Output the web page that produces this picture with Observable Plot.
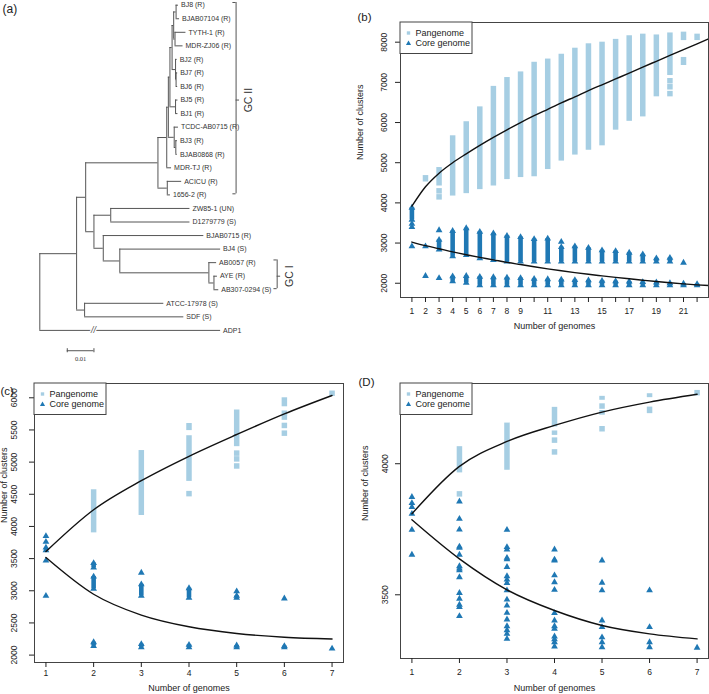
<!DOCTYPE html>
<html><head><meta charset="utf-8">
<script src="https://cdn.jsdelivr.net/npm/d3@7"></script>
<script src="https://cdn.jsdelivr.net/npm/@observablehq/plot@0.6"></script>
<style>
body{margin:0;background:#fff;}
#fig{position:relative;width:709px;height:694px;overflow:hidden;background:#fff;}
#fig svg{position:absolute;}
</style></head><body><div id="fig"></div>
<script>
// ---------- DATA ----------
const PAN = "#a6cee3", CORE = "#1f78b4";
const FONT = "Liberation Sans, Arial, Helvetica, sans-serif";

// Tree (a): [parent, child, branch length], children listed top to bottom
const treeEdges = [
 ["root","N1",0.0138],["N1","N2",0.0034],["N2","N8",0.0271],["N8","N9",0.0033],
 ["N9","N10",0.0006],["N10","N11",0.0006],["N11","A",0.0008],["A","B",0.0006],
 ["B","B1",0.0009],["B1","BJ8 (R)",0.0009],["B1","BJAB07104 (R)",0.0013],
 ["B","B2",0.0005],["B2","TYTH-1 (R)",0.0041],["B2","MDR-ZJ06 (R)",0.0030],
 ["A","C",0.0013],["C","BJ2 (R)",0.0006],["C","C1",0.0002],["C1","BJ7 (R)",0.0006],["C1","BJ6 (R)",0.0006],
 ["N11","D",0.0021],["D","BJ5 (R)",0.0009],["D","BJ1 (R)",0.0009],
 ["N10","N12",0.0022],["N12","TCDC-AB0715 (R)",0.0016],["N12","N12b",0.0006],
 ["N12b","BJ3 (R)",0.0006],["N12b","BJAB0868 (R)",0.0006],
 ["N9","MDR-TJ (R)",0.0018],
 ["N8","ACn",0.0035],["ACn","ACICU (R)",0.0054],["ACn","1656-2 (R)",0.0012],
 ["N2","N3",0.0031],["N3","N4",0.0063],["N4","ZW85-1 (UN)",0.0297],["N4","D1279779 (S)",0.0297],
 ["N3","N5",0.0035],["N5","BJAB0715 (R)",0.0377],["N5","N6",0.0062],["N6","BJ4 (S)",0.0378],
 ["N6","N7",0.0334],["N7","AB0057 (R)",0.0029],["N7","N7b",0.0019],["N7b","AYE (R)",0.0013],["N7b","AB307-0294 (S)",0.0018],
 ["N1","NA",0.0030],["NA","ATCC-17978 (S)",0.0297],["NA","SDF (S)",0.0372],
 ["root","ADP1",0.0678]
];
const clades = [
 {name:"GC II", from:"BJ8 (R)", to:"1656-2 (R)", x:0.0736, labelX:0.0784},
 {name:"GC I", from:"AB0057 (R)", to:"AB307-0294 (S)", x:0.0890, labelX:0.0937}
];
const brokenBranch = {leaf:"ADP1", at:0.0201};
const scaleBar = {start:0.0103, length:0.01, label:"0.01"};

// Panel (b)
const bPanBands = [[2,4520,4680],[3,4420,4880],[4,4170,5670],[5,4230,6020],[6,4330,6390],[7,4420,6900],
 [8,4580,7120],[9,4630,7260],[10,4650,7500],[11,4830,7580],[12,5040,7700],[13,5190,7850],[14,5310,7960],
 [15,5420,8000],[16,5810,8070],[17,6030,8160],[18,6140,8200],[19,6640,8180],[20,7170,8230],[21,8040,8250],
 [21,7420,7620],[22,8040,8200]];
const bPanPts = [[3,4300],[3,4150],[20,7040],[20,6890],[20,6720]];
const bCoreBands = [[1,3580,3880],[3,2840,3080],[4,2670,3300],[4,2050,2170],[5,2700,3370],[5,2010,2180],
 [6,2620,3280],[6,1950,2160],[7,2580,3240],[7,1950,2150],[8,2540,3180],[8,1950,2140],[9,2540,3150],[9,1950,2130],
 [10,2540,3100],[10,1950,2110],[11,2540,3110],[11,1950,2100],[12,2540,2900],[12,1950,2090],[13,2540,2920],[13,1950,2080],
 [14,2540,2880],[14,1950,2070],[15,2540,2820],[15,1950,2060],[16,2540,2800],[16,1950,2050],[17,2540,2760],[17,1950,2040],
 [18,2540,2720],[18,1950,2030],[19,2540,2620],[19,1950,2020],[20,2540,2630],[20,1950,2000],[21,1950,1990],[22,1950,1980]];
const bCorePts = [[1,3480],[1,3400],[1,2920],[2,2920],[2,2180],[3,3320],[3,2130],[12,3030],[21,2510]];
const bCurveN = [1,2,3,4,5,6,7,8,9,10,11,12,13,14,15,16,17,18,19,20,21,22,22.84];
const bPanCurve = [3917,4400,4740,5000,5220,5430,5630,5820,6000,6170,6330,6490,6640,6795,6940,7085,7230,7380,7525,7670,7815,7960,8080];
const bCoreCurve = [3025,2935,2858,2780,2710,2645,2583,2520,2465,2410,2358,2310,2265,2222,2183,2145,2110,2075,2042,2012,1985,1960,1942];
const bXTicks = d3.range(1,23);
const bXLabels = [1,2,3,4,5,6,7,8,9,11,13,15,17,19,21];
const bYTicks = [2000,3000,4000,5000,6000,7000,8000];

// Panel (c)
const cPanBands = [[2,3900,4570],[3,4170,5180],[4,4700,5410],[4,5490,5600],[5,5240,5810],[6,5860,6000]];
const cPanPts = [[4,4510],[5,5140],[5,5050],[5,4940],[6,5760],[6,5700],[6,5570],[6,5450],[7,6070]];
const cCoreBands = [[2,3360,3430],[2,3030,3220],[2,2140,2200],[3,2920,3100],[3,2120,2170],[4,2890,3040],
 [4,2120,2160],[5,2890,2920],[5,2120,2150],[6,2120,2140]];
const cCorePts = [[1,3850],[1,3760],[1,3670],[1,3630],[1,3470],[1,2920],[3,3280],[5,2990],[6,2880],[7,2100]];
const cCurveN = [1,2,3,4,5,6,7];
const cPanCurve = [3610,4260,4712,5091,5429,5750,6036];
const cCoreCurve = [3517,2946,2622,2440,2336,2277,2250];
const cXTicks = [1,2,3,4,5,6,7];
const cYTicks = [2000,2500,3000,3500,4000,4500,5000,5500,6000];

// Panel (D)
const dPanBands = [[2,3965,4065],[3,3975,4155],[4,4140,4215],[4,4108,4125],[5,4242,4257],[5,4185,4203],
 [5,4121,4142],[6,4252,4267],[6,4191,4216]];
const dPanPts = [[2,3885],[4,4090],[4,4045],[5,4220],[7,4271]];
const dCoreBands = [];
const dCorePts = [
 [1,3873],[1,3850],[1,3835],[1,3809],[1,3748],[1,3653],
 [2,3856],[2,3790],[2,3749],[2,3684],[2,3679],[2,3653],[2,3609],[2,3600],[2,3593],[2,3567],[2,3507],[2,3485],[2,3462],[2,3453],[2,3419],
 [3,3748],[3,3682],[3,3673],[3,3641],[3,3635],[3,3606],[3,3571],[3,3558],[3,3545],[3,3517],[3,3482],[3,3459],[3,3431],[3,3406],[3,3380],[3,3365],[3,3351],[3,3332],
 [4,3673],[4,3634],[4,3631],[4,3574],[4,3548],[4,3519],[4,3430],[4,3402],[4,3380],[4,3370],[4,3341],[4,3330],[4,3319],[4,3303],
 [5,3631],[5,3546],[5,3517],[5,3402],[5,3377],[5,3338],[5,3319],[5,3300],
 [6,3517],[6,3377],[6,3319],[6,3300],
 [7,3298]];
const dCurveN = [1,2,3,4,5,6,7];
const dPanCurve = [3809,3990,4085,4146,4197,4235,4265];
const dCoreCurve = [3786,3637,3519,3440,3383,3351,3332];
const dXTicks = [1,2,3,4,5,6,7];
const dYTicks = [3500,4000];

const legendItems = ["Pangenome","Core genome"];
const legendSymbols = ["square","triangle"];
const legendColors = [PAN, CORE];
const xTitle = "Number of genomes", yTitle = "Number of clusters";

// ---------- DRAW ----------
const fig = document.getElementById("fig");

function place(svg, left, top) {
  svg.style.left = left + "px"; svg.style.top = top + "px";
  fig.appendChild(svg);
}

// Tree
(function(){
  const kids = new Map();
  const len = new Map();
  for (const [p,c,l] of treeEdges) {
    if (!kids.has(p)) kids.set(p, []);
    kids.get(p).push(c); len.set(c, l);
  }
  const X = new Map(), Y = new Map();
  let leafIdx = 0;
  const leaves = [];
  (function walk(n, x){
    X.set(n, x);
    const ch = kids.get(n);
    if (!ch) { Y.set(n, leafIdx++); leaves.push(n); return; }
    for (const c of ch) walk(c, x + len.get(c));
    Y.set(n, (Y.get(ch[0]) + Y.get(ch[ch.length-1]))/2);
  })("root", 0);
  const hSegs = treeEdges.map(([p,c]) => ({x1:X.get(p), x2:X.get(c), y:Y.get(c)}));
  const vSegs = [...kids.keys()].map(n => {const ch = kids.get(n); return {x:X.get(n), y1:Y.get(ch[0]), y2:Y.get(ch[ch.length-1])};});
  const leafData = leaves.map(n => ({name:n, x:X.get(n), y:Y.get(n)}));
  const brk = [{x:brokenBranch.at, y:Y.get(brokenBranch.leaf)}];
  const cl = clades.map(c => ({...c, y1:Y.get(c.from)-0.2, y2:Y.get(c.to)-0.08, ym:(Y.get(c.from)+Y.get(c.to))/2}));
  const sbY = leaves.length + 0.5;
  const gray = "#555";
  const svg = Plot.plot({
    width:350, height:360, margin:0,
    x:{domain:[0,0.1], range:[39.3,306], axis:null},
    y:{domain:[0,24], range:[4.7,329.9], axis:null},
    style:{fontFamily:FONT, color:"#222", background:"transparent", overflow:"visible"},
    marks:[
      Plot.ruleY(hSegs, {x1:"x1", x2:"x2", y:"y", stroke:gray, strokeWidth:1}),
      Plot.ruleX(vSegs, {x:"x", y1:"y1", y2:"y2", stroke:gray, strokeWidth:1}),
      Plot.text(brk, {x:"x", y:"y", text:()=>"//", fill:gray, stroke:"white", strokeWidth:2.5, fontSize:9, fontStyle:"italic"}),
      Plot.text(leafData, {x:"x", y:"y", text:"name", dx:2.5, textAnchor:"start", fontSize:7, fill:"#333"}),
      Plot.ruleX(cl, {x:"x", y1:"y1", y2:"y2", stroke:gray}),
      Plot.ruleY(cl, {y:"y1", x1:d=>d.x-0.0012, x2:"x", stroke:gray}),
      Plot.ruleY(cl, {y:"y2", x1:d=>d.x-0.0012, x2:"x", stroke:gray}),
      Plot.ruleY(cl, {y:"ym", x1:"x", x2:d=>d.x+0.0013, stroke:gray}),
      Plot.text(cl, {x:"labelX", y:"ym", text:"name", rotate:-90, fontSize:10.5, fill:"#333"}),
      Plot.ruleY([scaleBar], {x1:"start", x2:d=>d.start+d.length, y:()=>sbY, stroke:gray}),
      Plot.ruleX([scaleBar.start, scaleBar.start+scaleBar.length], {x:d=>d, y1:sbY-0.15, y2:sbY+0.15, stroke:gray}),
      Plot.text([scaleBar], {x:d=>d.start+d.length/2, y:()=>sbY+0.58, text:"label", fontSize:6.5, fontFamily:"Liberation Serif, serif", fill:"#333"}),
      Plot.text(["(a)"], {frameAnchor:"top-left", dx:2, dy:4, textAnchor:"start", lineAnchor:"top", fontSize:12})
    ]
  });
  place(svg, 0, 0);
})();

function panel(c) {
  const coreEnds = c.coreBands.flatMap(([n,lo,hi]) => [[n,lo],[n,hi]]);
  const panLine = c.curveN.map((n,i) => ({n, v:c.panCurve[i]}));
  const coreLine = c.curveN.map((n,i) => ({n, v:c.coreCurve[i]}));
  // legend layout (pixels -> data units of this panel)
  const xPer = (c.xDomain[1]-c.xDomain[0])/(c.width-c.ml-c.mr);
  const yPer = (c.yDomain[1]-c.yDomain[0])/(c.height-c.mt-c.mb);
  const lx = px => c.xDomain[0] + px*xPer, ly = px => c.yDomain[1] - px*yPer;
  const box = [{x1:lx(0), x2:lx(72), y1:ly(0), y2:ly(31.5)}];
  const rows = legendItems.map((t,i) => ({t, s:legendSymbols[i], f:legendColors[i], x:lx(8), tx:lx(15), y:ly(10.5+i*10.5)}));
  const svg = Plot.plot({
    width:c.width, height:c.height,
    marginTop:c.mt, marginRight:c.mr, marginBottom:c.mb, marginLeft:c.ml,
    x:{domain:c.xDomain}, y:{domain:c.yDomain},
    symbol:{domain:legendSymbols, range:["square","triangle"]},
    style:{fontFamily:FONT, fontSize:"8.5px", color:"#222", background:"transparent", overflow:"visible"},
    marks:[
      Plot.ruleX(c.panBands, {x:d=>d[0], y1:d=>d[1], y2:d=>d[2], stroke:PAN, strokeWidth:5.5}),
      Plot.dot(c.panPts, {x:d=>d[0], y:d=>d[1], symbol:"square", r:3.1, fill:PAN}),
      Plot.ruleX(c.coreBands, {x:d=>d[0], y1:d=>d[1], y2:d=>d[2], stroke:CORE, strokeWidth:4.6}),
      Plot.dot(coreEnds.concat(c.corePts), {x:d=>d[0], y:d=>d[1], symbol:"triangle", r:2.5, fill:CORE}),
      Plot.line(panLine, {x:"n", y:"v", curve:"monotone-x", stroke:"#111", strokeWidth:1.4}),
      Plot.line(coreLine, {x:"n", y:"v", curve:"monotone-x", stroke:"#111", strokeWidth:1.4}),
      Plot.frame({stroke:"#444"}),
      Plot.axisX({ticks:c.xTicks, tickSize:5, tickPadding:c.xTickPad, tickFormat:d=>c.xLabels.includes(d)?String(d):"", label:null}),
      Plot.axisY({ticks:c.yTicks, tickSize:5, tickFormat:()=>"", label:null}),
      Plot.text(c.yTicks, {frameAnchor:"left", y:d=>d, text:d=>String(d), rotate:-90, dx:c.yTickDx, textAnchor:"middle"}),
      Plot.text([xTitle], {frameAnchor:"bottom", dy:c.xTitleDy, fontSize:9}),
      Plot.text([yTitle], {frameAnchor:"left", dx:c.yTitleDx, rotate:-90, fontSize:9}),
      Plot.text([c.tag], {frameAnchor:"top-left", dx:c.tagDx, dy:c.tagDy, textAnchor:"start", fontSize:11.5}),
      // legend
      Plot.rect(box, {x1:"x1", x2:"x2", y1:"y1", y2:"y2", fill:"white", stroke:"#444"}),
      Plot.dot(rows, {x:"x", y:"y", symbol:"s", fill:"f", r:1.9}),
      Plot.text(rows, {x:"tx", y:"y", text:"t", textAnchor:"start", fontSize:9})
    ]
  });
  place(svg, c.left, c.top);
}

panel({left:350, top:0, width:359, height:340, mt:22, mr:1, mb:43, ml:50,
  xDomain:[0.16,22.84], yDomain:[1645,8490], xTicks:bXTicks, xLabels:bXLabels, yTicks:bYTicks,
  xTickPad:5, yTickDx:-16, xTitleDy:31, yTitleDx:-40, tag:"(b)", tagDx:-43, tagDy:-10,
  panBands:bPanBands, panPts:bPanPts, coreBands:bCoreBands, corePts:bCorePts,
  curveN:bCurveN, panCurve:bPanCurve, coreCurve:bCoreCurve});

panel({left:0, top:360, width:350, height:334, mt:23, mr:7, mb:32, ml:34,
  xDomain:[0.76,7.24], yDomain:[1885,6222], xTicks:cXTicks, xLabels:cXTicks, yTicks:cYTicks,
  xTickPad:2, yTickDx:-20, xTitleDy:28, yTitleDx:-30, tag:"(c)", tagDx:-34, tagDy:3,
  panBands:cPanBands, panPts:cPanPts, coreBands:cCoreBands, corePts:cCorePts,
  curveN:cCurveN, panCurve:cPanCurve, coreCurve:cCoreCurve});

panel({left:350, top:360, width:359, height:334, mt:23, mr:1, mb:36, ml:50,
  xDomain:[0.76,7.24], yDomain:[3257,4306], xTicks:dXTicks, xLabels:dXTicks, yTicks:dYTicks,
  xTickPad:5, yTickDx:-15, xTitleDy:32, yTitleDx:-35, tag:"(D)", tagDx:-42, tagDy:-6,
  panBands:dPanBands, panPts:dPanPts, coreBands:dCoreBands, corePts:dCorePts,
  curveN:dCurveN, panCurve:dPanCurve, coreCurve:dCoreCurve});
</script></body></html>
